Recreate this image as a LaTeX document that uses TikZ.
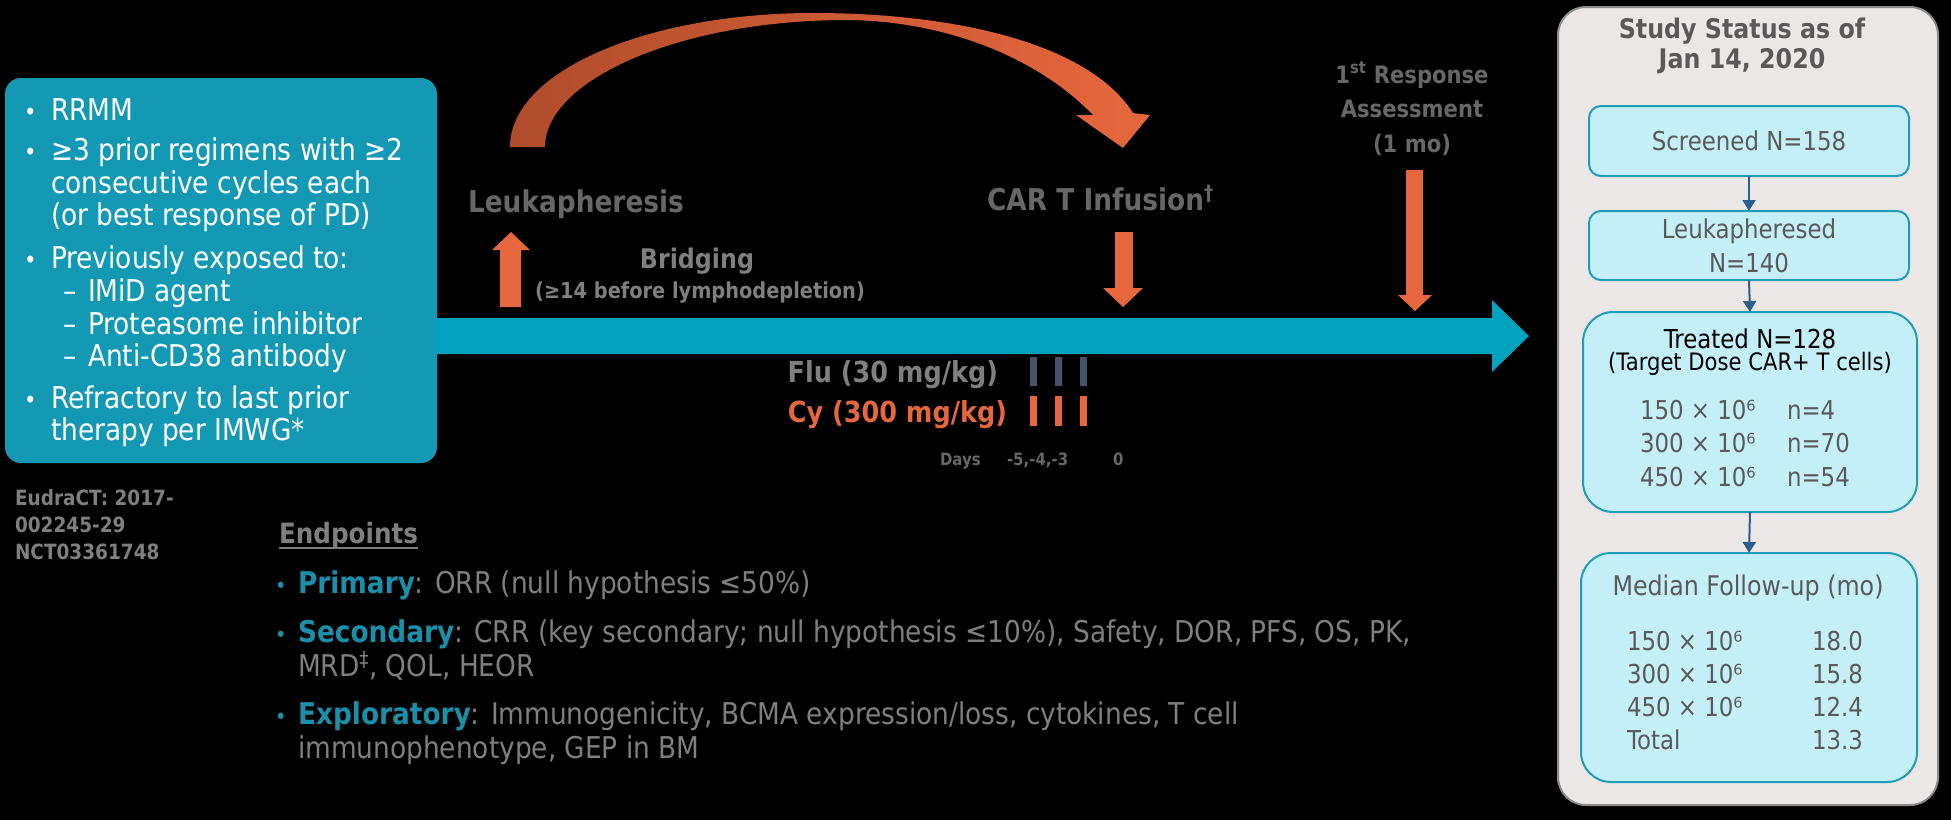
\documentclass[tikz,border=0pt]{standalone}
\usepackage{fontspec}
\setmainfont{DejaVu Sans}[FakeStretch=0.88]
\usetikzlibrary{arrows.meta}
\definecolor{boxteal}{HTML}{1499B4}
\definecolor{lineteal}{HTML}{01A1BF}
\definecolor{orng}{HTML}{E6673D}
\definecolor{orngdark}{HTML}{B04C2C}
\definecolor{slate}{HTML}{44546A}
\definecolor{txtgray}{HTML}{7F7F7F}
\definecolor{dgray}{HTML}{676767}
\definecolor{pgray}{HTML}{595959}
\definecolor{panelbg}{HTML}{ECE7E7}
\definecolor{panelbd}{HTML}{8C8C8C}
\definecolor{cyanfill}{HTML}{C4EFF9}
\definecolor{cyanbd}{HTML}{1F9DB5}
\definecolor{arrblue}{HTML}{2E5E8C}
\definecolor{epteal}{HTML}{1B8FA9}
\newcommand{\fsz}[2]{\fontsize{#1}{#2}\selectfont}
\tikzset{
  every node/.style={inner sep=0pt, outer sep=0pt},
  crit/.style={anchor=base west, text=white, font=\fsz{30}{33}},
  critbul/.style={anchor=base west, text=white, font=\fsz{24}{24}},
  reg/.style={anchor=base west, text=txtgray, font=\fsz{21}{27}\bfseries},
  endp/.style={anchor=base west, text=txtgray, font=\fsz{30}{34}},
  epbul/.style={anchor=base west, text=epteal, font=\fsz{22}{22}},
  milestone/.style={anchor=base west, text=dgray, font=\fsz{30}{33}\bfseries},
  resp/.style={anchor=base, text=dgray, font=\fsz{24}{34}\bfseries},
  drug/.style={anchor=base east, font=\fsz{29}{30}\bfseries},
  daylbl/.style={anchor=base west, text=dgray, font=\fsz{17}{20}\bfseries},
  statbox/.style={fill=cyanfill, draw=cyanbd, line width=2pt},
  stattxt/.style={text=pgray, font=\fsz{26}{34}},
  flowarr/.style={draw=arrblue, line width=2pt, -{Triangle[width=13pt,length=11pt]}},
}
\begin{document}
\begin{tikzpicture}[x=1pt,y=-1pt]
\fill[black] (0,0) rectangle (1951,820);
\useasboundingbox (0,0) rectangle (1951,820);

% ---------- eligibility box ----------
\node[fill=boxteal, rounded corners=16pt, anchor=north west,
      minimum width=432pt, minimum height=385pt] (crit) at (5,78) {};
\node[critbul] (b1) at (24,120) {•};
\node[crit] (c1) at (51,120) {RRMM};
\node[critbul] (b2) at (24,160) {•};
\node[crit] (c2) at (51,160) {≥3 prior regimens with ≥2};
\node[crit] (c3) at (51,193) {consecutive cycles each};
\node[crit] (c4) at (51,225) {(or best response of PD)};
\node[critbul] (b3) at (24,268) {•};
\node[crit] (c5) at (51,268) {Previously exposed to:};
\node[crit] (d1) at (63,301) {–};
\node[crit] (c6) at (88,301) {IMiD agent};
\node[crit] (d2) at (63,334) {–};
\node[crit] (c7) at (88,334) {Proteasome inhibitor};
\node[crit] (d3) at (63,366) {–};
\node[crit] (c8) at (88,366) {Anti-CD38 antibody};
\node[critbul] (b4) at (24,408) {•};
\node[crit] (c9) at (51,408) {Refractory to last prior};
\node[crit] (c10) at (51,440) {therapy per IMWG*};

% registry numbers
\node[reg] (r1) at (15,505) {EudraCT: 2017-};
\node[reg] (r2) at (15,532) {002245-29};
\node[reg] (r3) at (15,559) {NCT03361748};

% ---------- timeline ----------
\fill[lineteal] (436,318) -- (1492,318) -- (1492,300) -- (1529,336)
   -- (1492,372) -- (1492,354) -- (436,354) -- cycle;

% curved arrow leukapheresis -> infusion
\shade[left color=orngdark, right color=orng]
  (510,147) .. controls (510,70) and (650,13) .. (813,13)
  .. controls (960,13) and (1090,45) .. (1133,113)
  -- (1150,115) -- (1123,148) -- (1076,115) -- (1093,115)
  .. controls (1040,60) and (950,21) .. (847,20)
  .. controls (680,20) and (545,80) .. (545,147) -- cycle;

% block arrows
\fill[orng] (500,307) -- (500,250) -- (492,250) -- (511,232) -- (530,250)
   -- (521,250) -- (521,307) -- cycle;
\fill[orng] (1115,232) -- (1133,232) -- (1133,288) -- (1143,288) -- (1123,307)
   -- (1103,288) -- (1115,288) -- cycle;
\fill[orng] (1406,170) -- (1423,170) -- (1423,295) -- (1432,295) -- (1415,311)
   -- (1398,295) -- (1406,295) -- cycle;

% milestone labels
\node[milestone] (leuk) at (468,212) {Leukapheresis};
\node[anchor=base, text=txtgray, font=\fsz{27}{30}\bfseries] (brid) at (697,268) {Bridging};
\node[anchor=base, text=txtgray, font=\fsz{22}{26}\bfseries] (bridn) at (700,298) {(≥14 before lymphodepletion)};
\node[milestone] (cart) at (987,210) {CAR T Infusion\textsuperscript{†}};
\node[resp] (resp1) at (1412,83) {1\textsuperscript{st} Response};
\node[resp] (resp2) at (1412,117) {Assessment};
\node[resp] (resp3) at (1412,152) {(1 mo)};

% lymphodepletion
\node[drug, text=txtgray] (flu) at (998,382) {Flu (30 mg/kg)};
\node[drug, text=orng] (cy) at (1007,422) {Cy (300 mg/kg)};
\foreach \xx in {1030,1055,1080}{
  \fill[slate] (\xx,357) rectangle (\xx+7,386);
  \fill[orng] (\xx,396) rectangle (\xx+7,426);
}
\node[daylbl] (days) at (940,465) {Days};
\node[daylbl] (dneg) at (1007,465) {-5,-4,-3};
\node[daylbl] (dzero) at (1113,465) {0};

% ---------- endpoints ----------
\node[anchor=base west, text=txtgray, font=\fsz{28}{30}\bfseries] (ephead) at (279,543) {Endpoints};
\draw[txtgray, line width=2pt] ([yshift=-5pt]ephead.base west) -- ([yshift=-5pt]ephead.base east);
\node[epbul] (eb1) at (275,593) {•};
\node[endp] (e1) at (298,593) {{\bfseries\color{epteal}Primary}: ORR (null hypothesis ≤50\%)};
\node[epbul] (eb2) at (275,642) {•};
\node[endp] (e2) at (298,642) {{\bfseries\color{epteal}Secondary}: CRR (key secondary; null hypothesis ≤10\%), Safety, DOR, PFS, OS, PK,};
\node[endp] (e3) at (298,676) {MRD\textsuperscript{‡}, QOL, HEOR};
\node[epbul] (eb3) at (275,724) {•};
\node[endp] (e4) at (298,724) {{\bfseries\color{epteal}Exploratory}: Immunogenicity, BCMA expression/loss, cytokines, T cell};
\node[endp] (e5) at (298,758) {immunophenotype, GEP in BM};

% ---------- study status panel ----------
\node[fill=panelbg, draw=panelbd, line width=2pt, rounded corners=28pt, anchor=north west,
      minimum width=380pt, minimum height=798pt] (panel) at (1558,7) {};
\node[anchor=base, text=pgray, font=\fsz{27}{30}\bfseries] (st1) at (1742,38) {Study Status as of};
\node[anchor=base, text=pgray, font=\fsz{27}{30}\bfseries] (st2) at (1742,68) {Jan 14, 2020};

\node[statbox, stattxt, rounded corners=12pt, minimum width=320pt, minimum height=70pt] (scr) at (1749,141) {Screened N=158};
\node[statbox, stattxt, rounded corners=12pt, minimum width=320pt, minimum height=69pt, align=center] (leu) at (1749,245.5) {Leukapheresed\\N=140};
\node[statbox, rounded corners=30pt, minimum width=334pt, minimum height=200pt] (trt) at (1750,412) {};
\node[statbox, rounded corners=30pt, minimum width=336pt, minimum height=229pt] (med) at (1749,667.5) {};

\draw[flowarr] (scr.south) -- (leu.north);
\draw[flowarr] (leu.south) -- (trt.north);
\draw[flowarr] (trt.south) -- (med.north);

\node[anchor=base, text=black, font=\fsz{26}{30}] (t1) at (1750,348) {Treated N=128};
\node[anchor=base, text=black, font=\fsz{24}{28}] (t2) at (1750,370) {(Target Dose CAR+ T cells)};
\node[stattxt, anchor=base west] (ta1) at (1640,419) {150 × 10⁶};
\node[stattxt, anchor=base west] (tb1) at (1787,419) {n=4};
\node[stattxt, anchor=base west] (ta2) at (1640,452) {300 × 10⁶};
\node[stattxt, anchor=base west] (tb2) at (1787,452) {n=70};
\node[stattxt, anchor=base west] (ta3) at (1640,486) {450 × 10⁶};
\node[stattxt, anchor=base west] (tb3) at (1787,486) {n=54};

\node[anchor=base, text=pgray, font=\fsz{27}{30}] (m0) at (1748,595) {Median Follow-up (mo)};
\node[stattxt, anchor=base west] (ma1) at (1627,650) {150 × 10⁶};
\node[stattxt, anchor=base west] (mb1) at (1812,650) {18.0};
\node[stattxt, anchor=base west] (ma2) at (1627,683) {300 × 10⁶};
\node[stattxt, anchor=base west] (mb2) at (1812,683) {15.8};
\node[stattxt, anchor=base west] (ma3) at (1627,716) {450 × 10⁶};
\node[stattxt, anchor=base west] (mb3) at (1812,716) {12.4};
\node[stattxt, anchor=base west] (ma4) at (1627,749) {Total};
\node[stattxt, anchor=base west] (mb4) at (1812,749) {13.3};
\end{tikzpicture}
\end{document}
